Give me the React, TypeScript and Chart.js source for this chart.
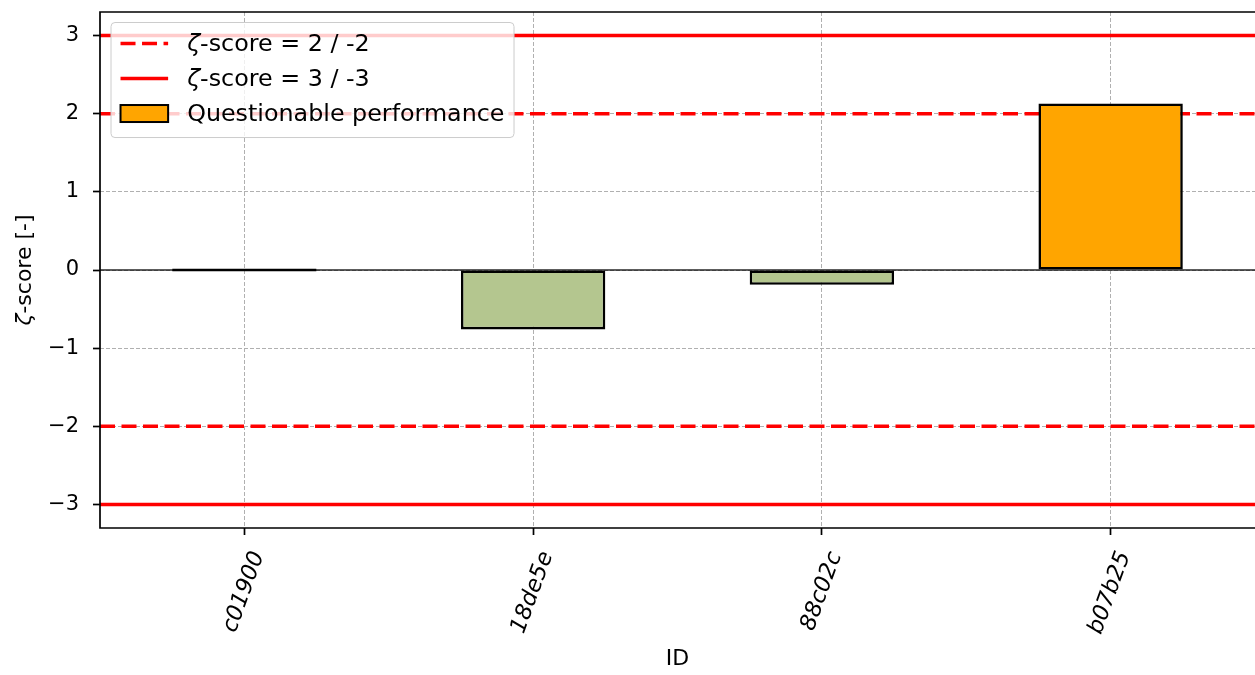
import React, { useEffect, useRef } from 'react';
import { Chart, registerables } from 'chart.js';

Chart.register(...registerables);

// ---- data ----
const CATEGORIES = ['c01900', '18de5e', '88c02c', 'b07b25'];
const Z_SATISFACTORY = [0, -0.76, -0.19, null];
const Z_QUESTIONABLE = [null, null, null, 2.13];
const WARNING_LIMIT = 2;
const ACTION_LIMIT = 3;
const Y_TICKS = [-3, -2, -1, 0, 1, 2, 3];
const Y_MIN = -3.3;
const Y_MAX = 3.3;
const LABEL_WARNING = 'ζ-score = 2 / -2';
const LABEL_ACTION = 'ζ-score = 3 / -3';
const LABEL_QUESTIONABLE = 'Questionable performance';
const Y_TITLE = 'ζ-score [-]';
const X_TITLE = 'ID';

const FAMILY = '"DejaVu Sans", sans-serif';

const hline = (y: number) => [
  { x: -0.5, y },
  { x: CATEGORIES.length - 0.5, y },
];

// draw text with a leading italic ζ
function drawMixed(ctx: CanvasRenderingContext2D, text: string, x: number, y: number, fs: number, measureOnly = false): number {
  let w = 0;
  let rest = text;
  if (text.startsWith('ζ')) {
    ctx.font = `italic ${fs}px ${FAMILY}`;
    if (!measureOnly) ctx.fillText('ζ', x, y);
    w += ctx.measureText('ζ').width;
    rest = text.slice(1);
  }
  ctx.font = `${fs}px ${FAMILY}`;
  if (!measureOnly) ctx.fillText(rest, x + w, y);
  w += ctx.measureText(rest).width;
  return w;
}

const spinesPlugin = {
  id: 'spines',
  afterDatasetsDraw(chart: any) {
    const { ctx, chartArea } = chart;
    ctx.save();
    ctx.strokeStyle = '#000';
    ctx.lineWidth = 1.7;
    ctx.setLineDash([]);
    ctx.beginPath();
    ctx.moveTo(chartArea.right + 2, chartArea.top);
    ctx.lineTo(chartArea.left, chartArea.top);
    ctx.lineTo(chartArea.left, chartArea.bottom);
    ctx.lineTo(chartArea.right + 2, chartArea.bottom);
    ctx.stroke();
    ctx.restore();
  },
};

const yTitlePlugin = {
  id: 'yTitle',
  afterDraw(chart: any) {
    const { ctx, chartArea } = chart;
    const fs = 22;
    ctx.save();
    ctx.fillStyle = '#000';
    ctx.textBaseline = 'middle';
    ctx.textAlign = 'left';
    const w = drawMixed(ctx, Y_TITLE, 0, 0, fs, true);
    ctx.translate(25, (chartArea.top + chartArea.bottom) / 2);
    ctx.rotate(-Math.PI / 2);
    drawMixed(ctx, Y_TITLE, -w / 2, 0, fs);
    ctx.restore();
  },
};

const legendPlugin = {
  id: 'mplLegend',
  afterDraw(chart: any) {
    const { ctx, chartArea } = chart;
    const fs = 23.8;
    const items = chart.data.datasets.filter((d: any) => d.label && !d.label.startsWith('_'));
    ctx.save();
    ctx.textBaseline = 'middle';
    ctx.textAlign = 'left';
    const textW = Math.max(...items.map((d: any) => drawMixed(ctx, d.label, 0, 0, fs, true)));
    const pad = 0.4 * fs;
    const handleLen = 2 * fs;
    const textPad = 0.8 * fs;
    const rowH = 23;
    const rowGap = 12;
    const x0 = chartArea.left + 11;
    const y0 = chartArea.top + 10.5;
    const w = pad + handleLen + textPad + textW + pad;
    const h = 2 * pad + items.length * rowH + (items.length - 1) * rowGap + 3;
    ctx.beginPath();
    ctx.roundRect(x0, y0, w, h, 4);
    ctx.fillStyle = 'rgba(255,255,255,0.8)';
    ctx.fill();
    ctx.lineWidth = 1;
    ctx.strokeStyle = '#cccccc';
    ctx.stroke();
    items.forEach((ds: any, k: number) => {
      const cy = y0 + pad + rowH / 2 + k * (rowH + rowGap);
      const hx = x0 + pad;
      if (ds.type === 'line') {
        ctx.beginPath();
        ctx.setLineDash(ds.borderDash || []);
        ctx.lineWidth = ds.borderWidth;
        ctx.strokeStyle = ds.borderColor;
        ctx.moveTo(hx, cy);
        ctx.lineTo(hx + handleLen, cy);
        ctx.stroke();
        ctx.setLineDash([]);
      } else {
        const ph = 17;
        ctx.fillStyle = ds.backgroundColor;
        ctx.fillRect(hx, cy - ph / 2, handleLen, ph);
        ctx.lineWidth = 2;
        ctx.strokeStyle = ds.borderColor;
        ctx.strokeRect(hx, cy - ph / 2, handleLen, ph);
      }
      ctx.fillStyle = '#000';
      drawMixed(ctx, ds.label, hx + handleLen + textPad, cy + 1, fs);
    });
    ctx.restore();
  },
};

const lineBase = {
  type: 'line' as const,
  xAxisID: 'x2',
  pointRadius: 0,
  pointHoverRadius: 0,
  fill: false,
  tension: 0,
  borderColor: '#ff0000',
  borderWidth: 3.5,
  order: 1,
};

export default function App() {
  const ref = useRef<HTMLCanvasElement>(null);
  useEffect(() => {
    document.body.style.margin = '0';
    const chart = new Chart(ref.current as HTMLCanvasElement, {
      type: 'bar',
      data: {
        labels: CATEGORIES,
        datasets: [
          { ...lineBase, label: LABEL_WARNING, data: hline(WARNING_LIMIT), borderDash: [15, 6.5] },
          { ...lineBase, label: LABEL_ACTION, data: hline(ACTION_LIMIT), borderDash: [] },
          { ...lineBase, label: '_warnNeg', data: hline(-WARNING_LIMIT), borderDash: [15, 6.5] },
          { ...lineBase, label: '_actionNeg', data: hline(-ACTION_LIMIT), borderDash: [] },
          { ...lineBase, label: '_zero', data: hline(0), borderColor: 'rgba(0,0,0,0.85)', borderWidth: 1.4, order: 2 },
          {
            type: 'bar',
            label: '_satisfactory',
            data: Z_SATISFACTORY,
            backgroundColor: '#b4c68f',
            borderColor: '#000',
            borderWidth: 2.6,
            borderSkipped: false,
            minBarLength: 3,
            grouped: false,
            barPercentage: 0.5,
            categoryPercentage: 1,
            order: 0,
          },
          {
            type: 'bar',
            label: LABEL_QUESTIONABLE,
            data: Z_QUESTIONABLE,
            backgroundColor: '#ffa500',
            borderColor: '#000',
            borderWidth: 2.6,
            borderSkipped: false,
            grouped: false,
            barPercentage: 0.5,
            categoryPercentage: 1,
            order: 0,
          },
        ] as any,
      },
      options: {
        responsive: false,
        animation: false,
        devicePixelRatio: 1,
        layout: { padding: 0 },
        plugins: {
          legend: { display: false },
          tooltip: { enabled: false },
        },
        scales: {
          x: {
            type: 'category',
            offset: true,
            grid: {
              offset: false,
              color: '#b0b0b0',
              lineWidth: 1,
              tickColor: '#000',
              tickWidth: 1.7,
              tickLength: 7,
            },
            border: { display: false, dash: [4, 2] },
            ticks: {
              autoSkip: false,
              minRotation: 70,
              maxRotation: 70,
              padding: 13,
              labelOffset: 14,
              color: '#000',
              font: { family: FAMILY, size: 22.5, style: 'italic' },
            },
            title: {
              display: true,
              text: X_TITLE,
              color: '#000',
              font: { family: FAMILY, size: 22 },
              padding: { top: 0, bottom: 3 },
            },
            afterFit: (s: any) => {
              s.height = 147;
              s.paddingLeft = 0;
              s.paddingRight = 0;
            },
          },
          x2: {
            type: 'linear',
            display: false,
            offset: false,
            min: -0.5,
            max: CATEGORIES.length - 0.5,
          },
          y: {
            type: 'linear',
            min: Y_MIN,
            max: Y_MAX,
            afterBuildTicks: (s: any) => {
              s.ticks = Y_TICKS.map((v) => ({ value: v }));
            },
            grid: {
              color: '#b0b0b0',
              lineWidth: 1,
              tickColor: '#000',
              tickWidth: 1.7,
              tickLength: 7,
            },
            border: { display: false, dash: [4, 2] },
            ticks: {
              padding: 14,
              color: '#000',
              font: { family: FAMILY, size: 21, lineHeight: 1 },
              callback: (v: any) => (v < 0 ? '\u2212' + Math.abs(v) : String(v)),
            },
            afterFit: (s: any) => {
              s.width = 100;
              s.paddingTop = 12;
              s.paddingBottom = 0;
            },
          },
        },
      },
      plugins: [spinesPlugin, yTitlePlugin, legendPlugin],
    } as any);
    return () => chart.destroy();
  }, []);
  return (
    <div style={{ width: 1255, height: 675 }}>
      <canvas ref={ref} width={1255} height={675} style={{ display: 'block' }} />
    </div>
  );
}
